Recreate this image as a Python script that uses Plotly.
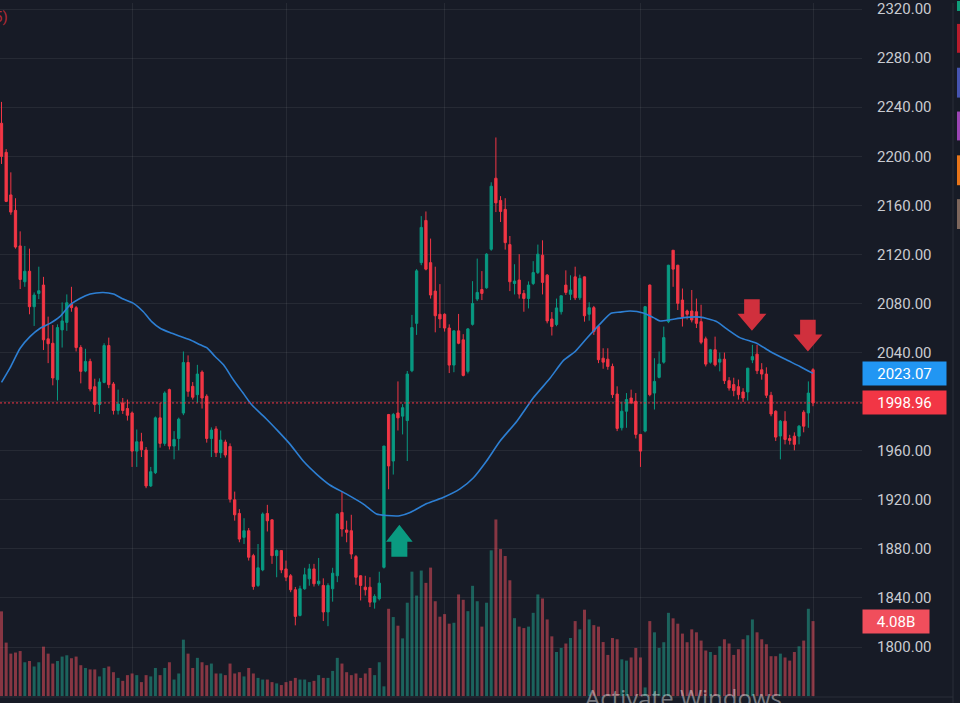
import plotly.graph_objects as go

# ---------------- data ----------------
open_ = [2226.9, 2203.2, 2168.5, 2155.9, 2126.9, 2097.7, 2106.3, 2077.4, 2088.2, 2095.0,
         2051.2, 2047.6, 2017.9, 2058.5, 2064.6, 2079.6, 2076.6, 2044.1, 2025.0, 2032.8,
         2012.2, 1997.6, 2015.7, 2045.7, 2014.4, 1992.8, 1998.9, 1994.4, 1990.8, 1959.7,
         1967.3, 1960.6, 1931.3, 1942.1, 1986.8, 1966.0, 2009.8, 1963.8, 1970.0, 1990.7,
         2031.9, 2012.5, 2005.7, 2024.1, 2004.4, 1970.0, 1977.8, 1958.4, 1967.1, 1963.5,
         1920.0, 1908.9, 1889.4, 1894.8, 1874.5, 1850.2, 1862.9, 1908.9, 1903.7, 1874.5,
         1878.6, 1863.7, 1858.1, 1846.7, 1825.8, 1847.5, 1855.6, 1863.7, 1851.6, 1850.2,
         1828.6, 1847.5, 1858.1, 1909.7, 1895.4, 1894.8, 1873.7, 1858.1, 1848.8, 1848.8,
         1836.6, 1839.4, 1865.0, 1989.5, 1951.6, 1990.8, 1988.2, 1984.6, 2025.2, 2063.8,
         2113.3, 2147.7, 2113.3, 2090.1, 2071.2, 2071.2, 2060.0, 2029.8, 2057.7, 2050.4,
         2024.7, 2063.0, 2083.6, 2091.4, 2092.8, 2124.2, 2182.1, 2164.0, 2156.7, 2128.0,
         2096.3, 2099.1, 2088.2, 2084.1, 2096.3, 2105.2, 2119.4, 2103.1, 2067.4, 2062.9,
         2073.3, 2095.0, 2087.5, 2101.7, 2084.6, 2101.7, 2071.2, 2076.6, 2061.2, 2035.4,
         2034.6, 2028.7, 2006.2, 1978.7, 1992.2, 2003.0, 2000.3, 1973.3, 1976.0, 2095.0,
         2007.0, 2019.8, 2032.2, 2065.2, 2123.4, 2111.2, 2082.8, 2073.9, 2073.9, 2073.3,
         2065.2, 2051.2, 2032.2, 2042.3, 2032.2, 2034.6, 2017.1, 2013.9, 2012.2, 2007.9,
         2007.9, 2034.0, 2038.7, 2026.0, 2022.5, 2005.2, 1992.2, 1972.0, 1984.1, 1970.0,
         1971.9, 1971.9, 1991.4, 1990.8, 2026.0]
high_ = [2244.3, 2205.8, 2186.9, 2165.8, 2138.8, 2126.9, 2124.7, 2089.0, 2110.0, 2101.7,
         2069.3, 2062.5, 2063.0, 2080.9, 2087.4, 2093.6, 2078.0, 2046.0, 2043.1, 2035.0,
         2018.7, 2019.0, 2047.6, 2052.2, 2016.0, 2009.8, 2003.0, 2001.7, 1992.0, 1977.3,
         1974.6, 1963.0, 1946.8, 1987.9, 1999.0, 2008.4, 2010.6, 1976.0, 1987.0, 2040.9,
         2037.7, 2016.0, 2030.0, 2025.5, 2006.0, 1979.0, 1980.0, 1976.5, 1969.0, 1966.0,
         1926.7, 1912.4, 1905.0, 1897.0, 1876.0, 1884.0, 1909.7, 1915.9, 1904.0, 1879.5,
         1879.0, 1870.5, 1859.5, 1849.0, 1850.0, 1864.6, 1867.8, 1867.8, 1872.6, 1856.0,
         1852.0, 1864.6, 1909.0, 1926.5, 1903.0, 1907.8, 1875.0, 1858.5, 1858.1, 1856.9,
         1843.0, 1861.4, 1964.0, 1990.0, 1990.8, 2016.5, 1998.0, 2025.0, 2070.7, 2108.0,
         2151.2, 2155.0, 2132.9, 2110.0, 2095.8, 2072.0, 2063.0, 2058.0, 2071.5, 2055.0,
         2060.0, 2098.2, 2116.6, 2106.4, 2121.0, 2178.8, 2215.3, 2167.5, 2165.8, 2135.0,
         2112.0, 2120.2, 2091.0, 2098.0, 2114.5, 2128.0, 2131.5, 2104.0, 2073.0, 2084.0,
         2086.5, 2107.0, 2103.0, 2110.0, 2103.5, 2102.0, 2081.0, 2078.0, 2062.0, 2043.5,
         2043.5, 2031.0, 2012.5, 2000.0, 2007.0, 2009.8, 2007.0, 1973.5, 2078.0, 2095.5,
         2035.4, 2040.9, 2061.2, 2111.5, 2123.4, 2111.5, 2092.2, 2075.0, 2091.0, 2084.0,
         2079.0, 2053.0, 2043.0, 2053.0, 2040.0, 2040.0, 2020.0, 2019.5, 2018.0, 2011.0,
         2027.5, 2046.3, 2046.3, 2031.4, 2028.0, 2008.0, 1993.0, 1985.0, 1992.2, 1973.0,
         1975.0, 1981.0, 1993.0, 2016.5, 2027.3]
low_ = [2193.7, 2162.6, 2152.3, 2124.7, 2091.8, 2093.6, 2071.2, 2061.7, 2083.6, 2042.1,
        2031.4, 2013.3, 2000.9, 2044.1, 2057.7, 2073.3, 2040.9, 2014.9, 2024.0, 2008.4,
        1991.6, 1990.0, 2015.0, 2011.0, 1989.5, 1989.5, 1990.0, 1984.6, 1946.8, 1946.8,
        1954.9, 1929.5, 1930.5, 1941.0, 1962.5, 1964.0, 1961.0, 1953.0, 1960.3, 1989.0,
        2004.0, 2001.7, 1999.0, 1994.4, 1966.6, 1954.9, 1954.9, 1954.0, 1954.5, 1917.8,
        1903.0, 1885.4, 1884.0, 1870.5, 1846.7, 1849.0, 1861.8, 1894.2, 1867.8, 1856.9,
        1860.2, 1853.7, 1844.7, 1817.7, 1825.0, 1846.7, 1850.0, 1849.3, 1850.0, 1821.2,
        1817.0, 1837.0, 1852.9, 1890.0, 1885.4, 1871.8, 1850.8, 1838.0, 1842.0, 1832.6,
        1831.3, 1838.0, 1864.0, 1928.6, 1940.6, 1976.5, 1973.3, 1951.6, 2024.0, 2054.4,
        2111.2, 2107.0, 2084.0, 2056.5, 2060.0, 2057.1, 2023.3, 2024.0, 2046.8, 2020.6,
        2023.0, 2062.0, 2082.0, 2082.8, 2092.0, 2123.0, 2154.5, 2146.4, 2123.9, 2090.1,
        2087.4, 2084.0, 2073.3, 2076.0, 2095.0, 2104.0, 2087.4, 2063.8, 2053.9, 2061.5,
        2071.0, 2087.0, 2082.8, 2082.8, 2082.8, 2065.2, 2066.0, 2054.4, 2031.4, 2026.8,
        2026.0, 2003.0, 1976.0, 1976.5, 1978.7, 1998.0, 1970.0, 1946.8, 1975.0, 2004.4,
        1993.6, 2019.0, 2031.0, 2064.0, 2093.6, 2074.7, 2061.2, 2067.0, 2064.6, 2060.0,
        2046.8, 2028.7, 2031.0, 2028.7, 2024.7, 2014.4, 2009.0, 2004.4, 2001.7, 1999.7,
        2000.9, 2031.4, 2022.5, 2017.9, 2003.0, 1988.1, 1967.9, 1953.0, 1965.2, 1965.0,
        1960.3, 1965.2, 1975.0, 1978.7, 1996.3]
close_ = [2199.9, 2163.2, 2154.5, 2126.0, 2099.6, 2106.3, 2077.4, 2086.9, 2090.4, 2050.4,
          2047.2, 2019.3, 2060.4, 2065.8, 2080.6, 2076.6, 2044.1, 2024.7, 2032.8, 2010.3,
          1997.6, 2016.0, 2045.7, 2013.9, 1992.8, 1998.1, 1992.8, 1988.9, 1959.7, 1967.3,
          1960.8, 1931.3, 1942.9, 1986.8, 1966.0, 2007.0, 1963.8, 1969.2, 1985.7, 2031.9,
          2008.4, 2003.6, 2022.5, 2003.0, 1970.0, 1976.8, 1958.4, 1968.7, 1956.5, 1920.5,
          1907.8, 1888.0, 1894.8, 1873.2, 1849.3, 1864.6, 1908.4, 1902.9, 1874.5, 1878.6,
          1862.9, 1856.9, 1846.7, 1825.0, 1847.5, 1858.9, 1863.7, 1851.6, 1853.7, 1828.6,
          1850.2, 1860.2, 1908.4, 1896.2, 1893.5, 1875.8, 1856.9, 1850.2, 1846.7, 1836.6,
          1841.3, 1852.1, 1963.8, 1947.6, 1989.5, 1986.8, 1995.1, 2022.5, 2060.4, 2106.6,
          2142.0, 2108.0, 2086.9, 2070.0, 2067.4, 2060.0, 2029.8, 2057.7, 2047.6, 2021.4,
          2059.3, 2080.0, 2089.0, 2088.2, 2120.2, 2175.6, 2162.0, 2155.0, 2129.6, 2097.7,
          2098.3, 2087.7, 2084.1, 2095.0, 2105.2, 2120.2, 2097.2, 2065.8, 2061.2, 2076.4,
          2086.3, 2089.0, 2091.0, 2084.6, 2100.4, 2070.0, 2076.6, 2057.1, 2034.2, 2032.2,
          2028.7, 2005.7, 1978.2, 1992.2, 2001.7, 1999.0, 1973.3, 1959.7, 2077.4, 2005.7,
          2016.5, 2030.6, 2052.2, 2111.2, 2108.0, 2080.1, 2069.3, 2071.2, 2066.6, 2063.8,
          2048.4, 2030.6, 2042.3, 2030.0, 2034.6, 2017.1, 2011.1, 2009.0, 2005.7, 2003.0,
          2027.3, 2036.7, 2025.2, 2022.5, 2005.2, 1990.0, 1971.1, 1984.1, 1969.2, 1968.4,
          1965.2, 1980.0, 1980.0, 2007.0, 1998.96]
# volume in billions
volume_b = [4.61, 2.91, 2.31, 2.37, 2.45, 1.84, 1.91, 1.61, 1.84, 2.69,
            2.31, 1.77, 1.91, 2.15, 2.22, 2.06, 2.15, 1.68, 1.53, 1.45,
            1.45, 1.07, 1.53, 1.61, 1.30, 0.99, 0.83, 1.14, 1.23, 1.14,
            0.76, 1.14, 1.07, 1.53, 1.14, 1.53, 1.84, 0.90, 1.23, 3.07,
            2.31, 1.53, 2.08, 1.84, 1.68, 1.77, 1.23, 1.23, 1.14, 1.77,
            1.23, 1.30, 1.07, 1.53, 1.23, 0.99, 0.90, 0.90, 0.76, 0.69,
            0.60, 0.76, 0.83, 0.99, 0.90, 0.90, 0.76, 0.83, 1.14, 0.99,
            0.99, 1.37, 2.08, 1.77, 1.30, 1.14, 1.23, 0.99, 1.23, 1.53,
            1.14, 1.84, 0.53, 4.75, 4.30, 3.83, 3.14, 5.08, 6.77, 5.47,
            6.83, 6.16, 6.99, 5.16, 4.32, 4.46, 3.94, 3.99, 5.53, 5.24,
            4.62, 6.00, 5.16, 3.78, 5.08, 7.93, 9.61, 8.00, 7.62, 6.30,
            4.24, 3.78, 3.70, 3.78, 4.53, 5.53, 5.31, 4.17, 3.25, 2.40,
            2.62, 2.86, 3.16, 4.08, 3.63, 4.70, 4.17, 3.86, 3.78, 2.94,
            2.24, 3.16, 3.09, 2.00, 1.93, 2.10, 2.62, 2.10, 0.47, 4.08,
            3.47, 2.62, 2.93, 4.53, 4.23, 3.94, 3.40, 2.93, 3.63, 3.47,
            3.02, 2.48, 2.40, 2.24, 2.71, 3.09, 2.86, 2.24, 2.55, 3.09,
            3.31, 4.17, 3.47, 3.09, 2.82, 2.17, 2.17, 2.31, 2.10, 1.93,
            2.40, 2.71, 3.02, 4.75, 4.08]
# moving-average line, read at candle positions
ma_pos = [1.0, 2.8, 5.0, 7.1, 9.3, 11.4, 13.5, 15.7, 17.8, 20.0, 22.8, 25.0, 27.1, 29.3,
          31.4, 33.2, 35.0, 37.1, 41.4, 43.6, 45.0, 46.8, 48.6, 50.7, 52.8, 54.6, 57.9,
          60.3, 62.9, 65.7, 68.6, 71.4, 75.0, 78.6, 81.4, 83.6, 86.4, 88.6, 92.2, 95.7,
          99.3, 102.2, 105.0, 107.9, 111.5, 115.0, 118.6, 121.5, 124.0, 126.5, 129.3,
          131.7, 133.6, 135.8, 138.6, 140.8, 142.2, 144.4, 147.2, 150.8, 154.3, 156.5,
          159.3, 162.9, 165.8, 169.3, 172.2, 175.0]
ma_val = [2015.7, 2027.3, 2043.5, 2053.0, 2059.8, 2063.8, 2069.3, 2078.8, 2084.1, 2087.7,
          2089.0, 2087.7, 2083.6, 2080.1, 2073.3, 2065.2, 2059.8, 2056.3, 2050.4, 2046.3,
          2044.0, 2036.8, 2030.0, 2017.9, 2007.0, 1997.6, 1985.5, 1976.0, 1965.2, 1951.6,
          1940.8, 1932.1, 1924.6, 1916.5, 1908.4, 1907.2, 1907.0, 1909.7, 1917.0, 1921.9,
          1928.9, 1938.0, 1951.6, 1967.9, 1984.1, 2003.0, 2019.0, 2033.6, 2040.9, 2051.7,
          2063.2, 2072.0, 2073.0, 2073.9, 2072.3, 2068.5, 2065.8, 2066.8, 2068.5, 2068.9,
          2065.4, 2059.3, 2052.2, 2047.6, 2040.9, 2034.1, 2028.7, 2023.07]
price_ticks = [1800, 1840, 1880, 1920, 1960, 2000, 2040, 2080, 2120, 2160, 2200, 2240, 2280, 2320]
grid_candles = [29, 62, 96, 138, 175]
last_close = 1998.96
last_ma = 2023.07
vol_label = "4.08B"
signal_pos = [86.3, 161.9, 173.9]
signal_price = [1899.7, 2057.7, 2040.9]
signal_dir = ["up", "down", "down"]

# ---------------- styling ----------------
BG = "#171b26"
GRID = "rgba(255,255,255,0.065)"
UP = "#089981"
DOWN = "#f23645"
FONT = "Roboto"
PW, PH = 862, 697  # plot area in pixels

idx = list(range(1, len(open_) + 1))
vol_colors = ["rgba(34,171,148,0.5)" if c >= o else "rgba(247,82,95,0.5)"
              for o, c in zip(open_, close_)]

fig = go.Figure()
fig.add_trace(go.Bar(x=idx, y=volume_b, marker_color=vol_colors, marker_line_width=0,
                     xaxis="x", yaxis="y", hoverinfo="skip", showlegend=False))
fig.add_trace(go.Candlestick(
    x=idx, open=open_, high=high_, low=low_, close=close_, xaxis="x", yaxis="y2",
    increasing=dict(line=dict(color=UP, width=1), fillcolor=UP),
    decreasing=dict(line=dict(color=DOWN, width=1), fillcolor=DOWN),
    whiskerwidth=0, showlegend=False, hoverinfo="skip"))
fig.add_trace(go.Scatter(x=ma_pos, y=ma_val, mode="lines", xaxis="x", yaxis="y2",
                         line=dict(color="#2d7fd3", width=1.6, shape="spline", smoothing=0.6),
                         hoverinfo="skip", showlegend=False))

shapes = []
# last price line
shapes.append(dict(type="line", xref="paper", x0=0, x1=1, yref="y2", y0=last_close, y1=last_close,
                   line=dict(color=DOWN, width=1, dash="2px,2px")))
# signal arrows
up_path = "M 0 0 L 13.3 -17 L 8 -17 L 8 -32 L -8 -32 L -8 -17 L -13.3 -17 Z"
down_path = "M 0 0 L 14.5 17 L 7.8 17 L 7.8 31.6 L -7.8 31.6 L -7.8 17 L -14.5 17 Z"
for p, v, d in zip(signal_pos, signal_price, signal_dir):
    shapes.append(dict(type="path", xref="x", yref="y2", xsizemode="pixel", ysizemode="pixel",
                       xanchor=p, yanchor=v, path=up_path if d == "up" else down_path,
                       fillcolor="#0a9a80" if d == "up" else "#d0303d", line=dict(width=0)))
# bottom border of chart
shapes.append(dict(type="line", xref="paper", yref="paper", x0=0, x1=953 / PW, y0=0, y1=0,
                   line=dict(color="#2a2e39", width=1)))
# right side toolbar separator and icons
shapes.append(dict(type="line", xref="paper", yref="paper", x0=953 / PW, x1=953 / PW,
                   y0=-6 / PH, y1=1, line=dict(color="#2a2e39", width=1)))
icon_cols = ["#0f9d7a", "#b71c2c", "#4654b0", "#9c45b5", "#e8751a", "#7d665c"]
icon_y = [(-2, 8), (21, 50), (65, 95), (109, 138), (153, 183), (197, 227)]
for col, (ya, yb) in zip(icon_cols, icon_y):
    shapes.append(dict(type="rect", xref="paper", yref="paper", x0=957 / PW, x1=962 / PW,
                       y0=(PH - yb) / PH, y1=(PH - ya) / PH, fillcolor=col, line=dict(width=0)))

annotations = [
    dict(xref="paper", x=1, xanchor="left", yref="y2", y=last_ma, yanchor="middle",
         text=f"{last_ma:.2f}", showarrow=False, bgcolor="#2196f3", width=75, height=15,
         borderpad=4, font=dict(family=FONT, size=15, color="white")),
    dict(xref="paper", x=1, xanchor="left", yref="y2", y=last_close, yanchor="middle",
         text=f"{last_close:.2f}", showarrow=False, bgcolor=DOWN, width=75, height=15,
         borderpad=4, font=dict(family=FONT, size=15, color="white")),
    dict(xref="paper", x=1, xanchor="left", yref="y", y=volume_b[-1], yanchor="middle",
         text=vol_label, showarrow=False, bgcolor="#f04e5c", width=58, height=15,
         borderpad=4, font=dict(family=FONT, size=15, color="white")),
    dict(xref="paper", x=10 / PW, xanchor="right", yref="paper", y=1 - 3 / PH, yanchor="top",
         text="5)", showarrow=False, font=dict(family=FONT, size=15, color="#b02a36")),
    dict(xref="paper", x=583 / PW, xanchor="left", yref="paper", y=(PH - 679) / PH, yanchor="top",
         text="Activate Windows", showarrow=False,
         font=dict(family="Open Sans", size=24, color="rgba(255,255,255,0.42)")),
]

fig.update_layout(
    width=960, height=703, autosize=False,
    margin=dict(l=0, r=960 - PW, t=0, b=703 - PH),
    paper_bgcolor=BG, plot_bgcolor=BG,
    showlegend=False, hovermode=False,
    bargap=0.36, boxgap=0.3,
    font=dict(family=FONT, color="#c9cbd1"),
    xaxis=dict(range=[0.678, 185.5], tickvals=grid_candles, showticklabels=False,
               showgrid=True, gridcolor=GRID, gridwidth=1, zeroline=False, showline=False,
               ticks="", rangeslider=dict(visible=False), fixedrange=True),
    yaxis=dict(range=[-0.05, 37.71], visible=False, showgrid=False, zeroline=False,
               fixedrange=True),
    yaxis2=dict(range=[1759.3, 2324.9], overlaying="y", side="right", anchor="x",
                tickvals=price_ticks, tickformat=".2f", showgrid=True, gridcolor=GRID,
                gridwidth=1, zeroline=False, showline=False, ticks="",
                ticklabelstandoff=14, ticklabeloverflow="allow",
                tickfont=dict(family=FONT, size=15, color="#c9cbd1"),
                fixedrange=True),
    shapes=shapes, annotations=annotations,
)

fig.write_html("out.html", config={"displayModeBar": False, "staticPlot": True})
